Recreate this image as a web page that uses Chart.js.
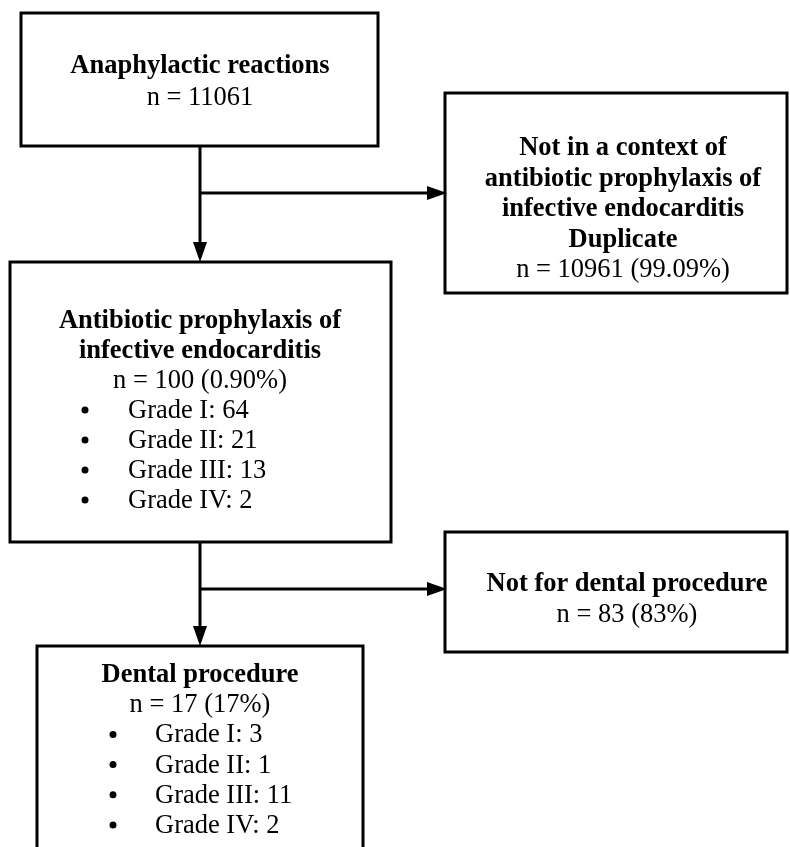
<!DOCTYPE html>
<html>
<head>
<meta charset="utf-8">
<script src="https://cdn.jsdelivr.net/npm/chart.js@4.4.1/dist/chart.umd.min.js"></script>
<style>
  html, body { margin: 0; padding: 0; background: #fff; }
  #wrap { width: 790px; height: 847px; }
</style>
</head>
<body>
<div id="wrap"><canvas id="flow" width="790" height="847"></canvas></div>
<script>
  // Texts and counts of the flow diagram
  const boxTitles = [
    ["Anaphylactic reactions"],
    ["Not in a context of", "antibiotic prophylaxis of", "infective endocarditis", "Duplicate"],
    ["Antibiotic prophylaxis of", "infective endocarditis"],
    ["Not for dental procedure"],
    ["Dental procedure"]
  ];
  const boxCounts = ["n = 11061", "n = 10961 (99.09%)", "n = 100 (0.90%)", "n = 83 (83%)", "n = 17 (17%)"];
  const gradeLabels = ["Grade I", "Grade II", "Grade III", "Grade IV"];
  const prophylaxisGrades = [64, 21, 13, 2];
  const dentalGrades = [3, 1, 11, 2];
  const boxGrades = [null, null, prophylaxisGrades, null, dentalGrades];

  // Layout in the diagram's own units (same as the 790 x 847 page)
  const boxes = [
    { x0: 21,  x1: 378, y0: 13,  y1: 146, cx: 200, top: 73,  step: 32 },
    { x0: 445, x1: 787, y0: 93,  y1: 293, cx: 623, top: 155, step: 30.5 },
    { x0: 10,  x1: 391, y0: 262, y1: 542, cx: 200, top: 328, step: 30, bullet: 85, text: 128 },
    { x0: 445, x1: 787, y0: 532, y1: 652, cx: 627, top: 591, step: 31 },
    { x0: 37,  x1: 363, y0: 646, y1: 870, cx: 200, top: 682, step: 30.2, bullet: 113, text: 155 }
  ];
  // trunk x, from y, to y, branch y, branch end x
  const links = [
    { x: 200, y0: 146, y1: 262, by: 193, bx: 445 },
    { x: 200, y0: 542, y1: 646, by: 589, bx: 445 }
  ];

  const font = '"Liberation Serif", "Times New Roman", serif';

  const flowPlugin = {
    id: 'flow',
    afterDatasetsDraw(chart) {
      const ctx = chart.ctx;
      const sx = v => chart.scales.x.getPixelForValue(v);
      const sy = v => chart.scales.y.getPixelForValue(v);
      ctx.save();
      ctx.strokeStyle = '#000';
      ctx.fillStyle = '#000';
      ctx.lineWidth = 3;

      boxes.forEach((b, i) => {
        ctx.strokeRect(sx(b.x0), sy(b.y0), sx(b.x1) - sx(b.x0), sy(b.y1) - sy(b.y0));
        let y = b.top;
        ctx.textAlign = 'center';
        ctx.textBaseline = 'alphabetic';
        ctx.font = 'bold 26.5px ' + font;
        boxTitles[i].forEach(t => { ctx.fillText(t, sx(b.cx), sy(y)); y += b.step; });
        ctx.font = '26.5px ' + font;
        ctx.fillText(boxCounts[i], sx(b.cx), sy(y));
        y += b.step;
        const g = boxGrades[i];
        if (g) {
          ctx.textAlign = 'left';
          g.forEach((v, k) => {
            ctx.beginPath();
            ctx.arc(sx(b.bullet), sy(y - 8), 3.5, 0, Math.PI * 2);
            ctx.fill();
            ctx.fillText(gradeLabels[k] + ': ' + v, sx(b.text), sy(y));
            y += b.step;
          });
        }
      });

      const arrowHead = (tx, ty, dir) => {
        ctx.beginPath();
        if (dir === 'down') {
          ctx.moveTo(sx(tx), sy(ty));
          ctx.lineTo(sx(tx - 7), sy(ty - 20));
          ctx.lineTo(sx(tx + 7), sy(ty - 20));
        } else {
          ctx.moveTo(sx(tx), sy(ty));
          ctx.lineTo(sx(tx - 20), sy(ty - 7));
          ctx.lineTo(sx(tx - 20), sy(ty + 7));
        }
        ctx.closePath();
        ctx.fill();
      };

      links.forEach(l => {
        ctx.beginPath();
        ctx.moveTo(sx(l.x), sy(l.y0));
        ctx.lineTo(sx(l.x), sy(l.y1 - 18));
        ctx.moveTo(sx(l.x), sy(l.by));
        ctx.lineTo(sx(l.bx - 18), sy(l.by));
        ctx.stroke();
        arrowHead(l.x, l.y1, 'down');
        arrowHead(l.bx + 2, l.by, 'right');
      });
      ctx.restore();
    }
  };

  new Chart(document.getElementById('flow'), {
    type: 'scatter',
    data: {
      datasets: [{
        data: boxes.map(b => ({ x: b.cx, y: (b.y0 + b.y1) / 2 })),
        pointRadius: 0
      }]
    },
    options: {
      responsive: false,
      animation: false,
      layout: { padding: 0 },
      plugins: { legend: { display: false }, tooltip: { enabled: false } },
      scales: {
        x: { type: 'linear', min: 0, max: 790, display: false },
        y: { type: 'linear', min: 0, max: 847, reverse: true, display: false }
      }
    },
    plugins: [flowPlugin]
  });
</script>
</body>
</html>
